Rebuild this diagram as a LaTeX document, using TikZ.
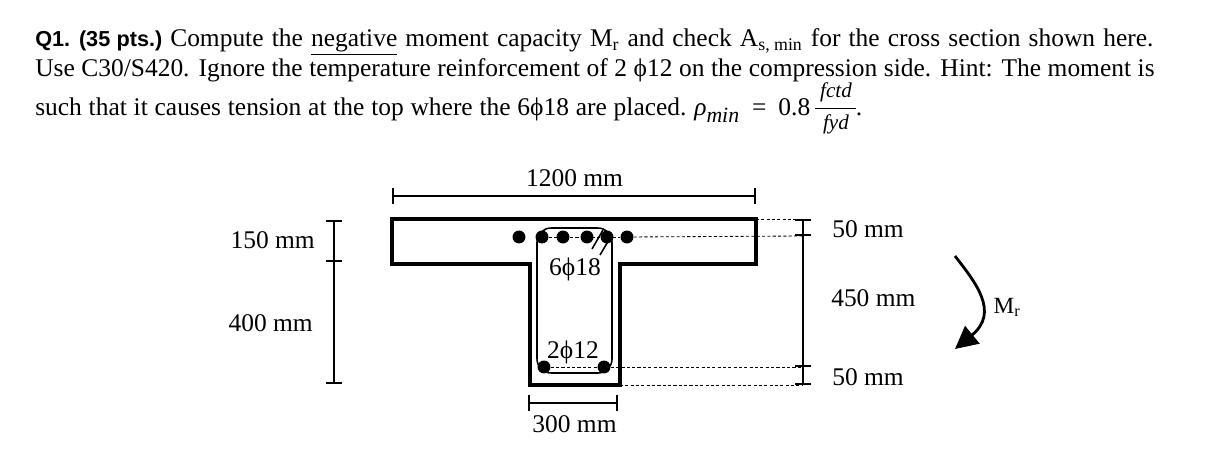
\documentclass[tikz,border=0pt]{standalone}
\usepackage{fontspec}
\setmainfont{Liberation Serif}
\setsansfont{Liberation Sans}
\usetikzlibrary{arrows,arrows.meta,positioning}
\tikzstyle{every label text} = []
\tikzstyle{label text} = [inner sep=0pt, font=\fontsize{18.1}{20}\selectfont, every label text]
\tikzstyle{section line} = [line width=2.2pt, line join=miter]
\tikzstyle{stirrup line} = [line width=1.1pt]
\tikzstyle{dim line} = [line width=1.1pt, {Bar[width=12pt]}-{Bar[width=12pt]}]
\tikzstyle{dim next} = [line width=1.1pt, -{Bar[width=12pt]}]
\tikzstyle{guide line} = [line width=0.6pt, dashed, dash pattern=on 2.2pt off 1.6pt]
\tikzstyle{bar} = [circle, fill=black, inner sep=0pt, minimum size=9.2pt]
\newcommand{\fii}{ϕ}

\begin{document}
\begin{tikzpicture}[x=0.025cm,y=-0.025cm]
                    \useasboundingbox (0,0) rectangle (1208,472);
                    % problem text
                    \node[label text,anchor=base west] (qnum) at (35,47) {\makebox[3.175cm][s]{\textsf{\textbf{\fontsize{15.4}{20}\selectfont Q1. (35 pts.)}}}};
                    \node[label text,anchor=base west] (lineone) at (170,47) {\makebox[24.575cm][s]{Compute the \underline{negative} moment capacity M\textsubscript{r} and check A\textsubscript{s, min} for the cross section shown here.}};
                    \node[label text,anchor=base west] (linetwo) at (35,77) {\makebox[27.975cm][s]{Use C30/S420. Ignore the temperature reinforcement of 2 \fii12 on the compression side. Hint: The moment is}};
                    \node[label text,anchor=base west] (linethree) at (35,116) {\makebox[16.275cm][s]{such that it causes tension at the top where the 6\fii18 are placed.}};
                    \node[label text,anchor=base west] (rhomin) at (694,116) {\makebox[2.9cm][s]{\textit{ρ}\textsubscript{\textit{\fontsize{15.5}{18}\selectfont min}} = 0.8}};
                    \coordinate (fracleft) at (815,108);
                    \coordinate (fracright) at (856,108);
                    \draw[line width=0.6pt] (fracleft) -- (fracright);
                    \node[label text,anchor=base,font=\fontsize{15}{16}\selectfont\itshape] (fctd) at (836,98) {fctd};
                    \node[label text,anchor=base,font=\fontsize{15}{16}\selectfont\itshape] (fyd) at (836,130) {fyd};
                    \node[label text,anchor=base] (dot) at (859,116) {.};

                    % cross section
                    \coordinate (ftl) at (392,219);
                    \coordinate (ftr) at (756,219);
                    \coordinate (fbr) at (756,264);
                    \coordinate (wtr) at (620,264);
                    \coordinate (wbr) at (620,385);
                    \coordinate (wbl) at (530,385);
                    \coordinate (wtl) at (530,264);
                    \coordinate (fbl) at (392,264);
                    \draw[section line] (ftl) -- (ftr) -- (fbr) -- (wtr) -- (wbr) -- (wbl) -- (wtl) -- (fbl) -- cycle;
                    \draw[stirrup line,rounded corners=10pt] (537,228) rectangle (612,373);

                    % bars
                    \foreach \x/\n in {519/a,542/b,563/c,587/d,607/e,627/f}
                        \node[bar] (top\n) at (\x,237) {};
                    \foreach \x/\n in {544/a,604/b}
                        \node[bar] (bot\n) at (\x,367) {};
                    \coordinate (hookaone) at (592,249);
                    \coordinate (hookatwo) at (603,230);
                    \coordinate (hookbone) at (600,255);
                    \coordinate (hookbtwo) at (610,238);
                    \draw[stirrup line] (hookaone) -- (hookatwo);
                    \draw[stirrup line] (hookbone) -- (hookbtwo);

                    % dimensions
                    \draw[dim line] (392,196) coordinate (wl) -- (756,196) coordinate (wr);
                    \draw[dim line] (528,403) coordinate (bl) -- (618,403) coordinate (br);
                    \draw[dim line] (334,220) coordinate (hone) -- (334,262) coordinate (htwo);
                    \draw[dim next] (htwo) -- (334,384) coordinate (hthree);
                    \draw[dim line] (803,219) coordinate (done) -- (803,236) coordinate (dtwo);
                    \draw[dim next] (dtwo) -- (803,367) coordinate (dthree);
                    \draw[dim next] (dthree) -- (803,385) coordinate (dfour);

                    \draw[guide line] (ftr) -- (done);
                    \draw[guide line] (topf) -- (dtwo);
                    \draw[guide line] (topb) -- (topf);
                    \draw[guide line] (bota) -- (botb);
                    \draw[guide line] (botb) -- (dthree);
                    \draw[guide line] (wbr) -- (dfour);

                    % labels
                    \node[label text] (wflange) at (574.5,178) {1200 mm};
                    \node[label text] (wweb) at (574.5,424) {300 mm};
                    \node[label text] (topbars) at (575,269) {6\fii18};
                    \node[label text] (botbars) at (573,352) {2\fii12};
                    \node[label text,anchor=base east] (hflange) at (315,248) {150 mm};
                    \node[label text,anchor=base east] (hweb) at (313,331) {400 mm};
                    \node[label text,anchor=base west] (dtop) at (832,237) {50 mm};
                    \node[label text,anchor=base west] (dmid) at (831,306) {450 mm};
                    \node[label text,anchor=base west] (dbot) at (832,385) {50 mm};

                    % moment
                    \coordinate (mstart) at (955,256);
                    \coordinate (mend) at (955,349);
                    \draw[line width=2pt,-{Triangle[length=16pt,width=16pt]}] (mstart) .. controls (975,282) and (1000,312) .. (mend);
                    \node[label text,font=\fontsize{16.5}{18}\selectfont,anchor=base] (mlabel) at (1007,313) {M\textsubscript{r}};
                \end{tikzpicture}
\end{document}
